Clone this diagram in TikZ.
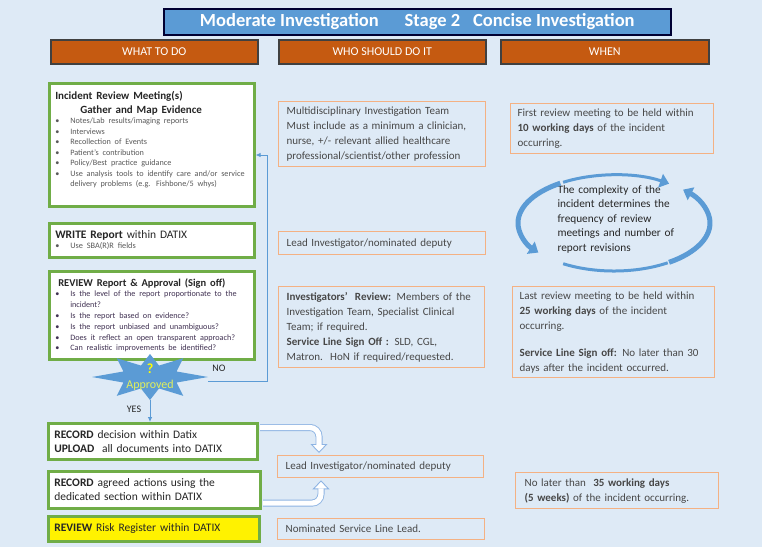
\documentclass[tikz,border=0pt]{standalone}
\usepackage{fontspec}
\setmainfont{Carlito}
\usepackage{tikz}
\usetikzlibrary{arrows.meta, calc, positioning}
\usepackage{xcolor}

\definecolor{bgblue}{HTML}{DEEAF6}
\definecolor{titleblue}{HTML}{5B9BD5}
\definecolor{headorange}{HTML}{C55A11}
\definecolor{boxgreen}{HTML}{70AD47}
\definecolor{boxorange}{HTML}{F4B183}
\definecolor{flowblue}{HTML}{5B9BD5}
\definecolor{hollowblue}{HTML}{8EB4E3}
\definecolor{textdark}{HTML}{262626}
\definecolor{bulletgray}{HTML}{595959}
\definecolor{bulletpurple}{HTML}{403152}
\definecolor{qyellow}{HTML}{FFFF00}
\definecolor{approvedtext}{HTML}{E2F05A}

\newcommand{\bul}{\makebox[15pt][l]{\textbullet}}

\tikzset{
  titlebox/.style={draw=black!80!blue, line width=1.6pt, fill=titleblue, text=white, anchor=north west,
    font=\fontsize{18.5}{22}\selectfont\bfseries},
  headbox/.style={draw=black!75, line width=1.5pt, fill=headorange, text=white, anchor=north west,
    minimum height=24pt, font=\fontsize{12}{14}\selectfont},
  greenbox/.style={draw=boxgreen, line width=2.6pt, fill=white, anchor=north west, align=left,
    inner xsep=6pt, inner ysep=2pt, text=textdark, font=\fontsize{11.5}{14}\selectfont},
  whobox/.style={draw=boxorange, line width=1.3pt, fill=bgblue, anchor=north west, align=left,
    inner xsep=8pt, inner ysep=2pt, text=textdark!85, font=\fontsize{11}{15}\selectfont},
  lbl/.style={text=textdark, font=\fontsize{10}{12}\selectfont},
  flow/.style={flowblue, line width=0.8pt, -{Latex[length=5pt, width=4.5pt]}},
  hollowout/.style={hollowblue, line width=7pt, rounded corners=9pt,
    -{Triangle[width=17pt, length=9pt, line width=0.9pt, fill=white]}},
  hollowin/.style={white, line width=5.2pt, rounded corners=9pt, shorten >=8pt},
  cyc/.style={flowblue, line width=5pt, -{Triangle[width=14pt, length=9pt]}}
}

\begin{document}
\begin{tikzpicture}[x=1pt, y=-1pt]
    % 背景
    \fill[bgblue] (0,0) rectangle (762,547);
    \useasboundingbox (0,0) rectangle (762,547);

    % 标题
    \node[titlebox, minimum width=507pt, minimum height=26pt] (title) at (163,8)
        {Moderate Investigation\hspace{1.4em}Stage 2\hspace{0.7em}Concise Investigation};

    % 列标题
    \node[headbox, minimum width=207pt] (what) at (50,39) {WHAT TO DO};
    \node[headbox, minimum width=207pt] (who) at (278,39) {WHO SHOULD DO IT};
    \node[headbox, minimum width=208pt] (when) at (500,39) {WHEN};

    % 左列：做什么
    \node[greenbox, text width=193pt, minimum height=123pt] (meeting) at (48,82) {%
        {\fontsize{11}{14}\selectfont\bfseries Incident Review Meeting(s)\\\hspace*{25pt}Gather and Map Evidence\par}
        {\fontsize{8.2}{10.5}\selectfont\color{bulletgray}
        \bul Notes/Lab results/imaging reports\\
        \bul Interviews\\
        \bul Recollection of Events\\
        \bul Patient’s contribution\\
        \bul Policy/Best practice guidance\\
        \bul Use analysis tools to identify care and/or service\\
        \hspace*{15pt}delivery problems (e.g. Fishbone/5 whys)\par}\vspace*{10pt}};
    \node[greenbox, text width=193pt, minimum height=34pt] (write) at (48,222) {%
        \textbf{WRITE Report}\ within DATIX\par
        {\fontsize{8.3}{10.5}\selectfont\color{bulletgray}\bul Use SBA(R)R fields\par}};
    \node[greenbox, text width=193pt, minimum height=88pt] (review) at (48,270) {%
        {\fontsize{10.5}{14}\selectfont\bfseries\hspace*{3pt}REVIEW Report \& Approval (Sign off)\par}
        {\fontsize{8.2}{10.8}\selectfont\color{bulletpurple}
        \bul Is the level of the report proportionate to the\\
        \hspace*{15pt}incident?\\
        \bul Is the report based on evidence?\\
        \bul Is the report unbiased and unambiguous?\\
        \bul Does it reflect an open transparent approach?\\
        \bul Can realistic improvements be identified?\par}};

    % 判断星形
    \fill[flowblue, shift={(150,377)}] (0:58 and 23)
        \foreach \i/\o in {27.5/55, 72.5/90, 107.5/125, 152.5/180, 207.5/235, 252.5/270, 287.5/305, 332.5/360}
            {-- (\i:30 and 12) -- (\o:58 and 23)} -- cycle;
    \node[align=center, minimum width=116pt, minimum height=46pt, inner sep=0pt] (approved) at (150,377)
        {{\color{qyellow}\fontsize{14}{15}\selectfont\bfseries ?}\\[3pt]%
         {\color{approvedtext}\fontsize{12}{13}\selectfont Approved}};
    \node[lbl] (nolabel) at (219,368) {NO};
    \node[lbl] (yeslabel) at (134,409) {YES};

    \node[greenbox, text width=197pt, minimum height=36pt] (record) at (47,422)
        {\textbf{RECORD} decision within Datix\\\textbf{UPLOAD}\ \ all documents into DATIX};
    \node[greenbox, text width=200pt, minimum height=37pt] (actions) at (47,470)
        {\textbf{RECORD} agreed actions using the\\dedicated section within DATIX};
    \node[greenbox, fill=yellow, text width=199pt, minimum height=25pt] (risk) at (47,515)
        {\textbf{REVIEW} Risk Register within DATIX};

    % 流程线
    \coordinate (noturn) at (267,155);
    \draw[flow] ($(approved.east)+(0,4)$) -| (noturn) -- (meeting.east |- noturn);
    \draw[flow] (approved.south) -- (approved.south |- record.north);

    % 中列：谁来做
    \node[whobox, text width=191pt, minimum height=65pt] (team) at (278,101)
        {Multidisciplinary Investigation Team\\Must include as a minimum a clinician,\\nurse, +/- relevant allied healthcare\\professional/scientist/other profession};
    \node[whobox, text width=191pt, minimum height=23pt] (lead1) at (278,231)
        {Lead Investigator/nominated deputy};
    \node[whobox, text width=190pt, minimum height=81pt] (signoff) at (278,286)
        {\textbf{Investigators’ \ Review:} Members of the\\Investigation Team, Specialist Clinical\\Team; if required.\\\textbf{Service Line Sign Off :} SLD, CGL,\\Matron.\ \ HoN if required/requested.};
    \node[whobox, text width=190pt, minimum height=22pt] (lead2) at (277,455)
        {Lead Investigator/nominated deputy};
    \node[whobox, text width=191pt, minimum height=21pt] (servicelead) at (277,518)
        {Nominated Service Line Lead.};

    % 空心箭头
    \coordinate (tip1) at ($(lead2.north west)+(42,-2)$);
    \coordinate (tip2) at ($(lead2.south west)+(44,2)$);
    \draw[hollowout] ($(record.north east)+(1.5,5.5)$) -| (tip1);
    \draw[hollowin] ($(record.north east)+(1.5,5.5)$) -| (tip1);
    \draw[hollowout] ($(actions.south east)+(1.5,-6.5)$) -| (tip2);
    \draw[hollowin] ($(actions.south east)+(1.5,-6.5)$) -| (tip2);

    % 右列：何时
    \node[whobox, text width=189pt, minimum height=50pt, inner xsep=7pt] (firstreview) at (510,103)
        {First review meeting to be held within\\\textbf{10 working days} of the incident\\occurring.};
    \node[align=left, text width=135pt, text=textdark, font=\fontsize{11.3}{14.5}\selectfont] (cycletext) at (625,219)
        {The complexity of the\\incident determines the\\frequency of review\\meetings and number of\\report revisions};
    \node[whobox, text width=188pt, minimum height=91pt, inner xsep=7pt] (lastreview) at (512,286)
        {Last review meeting to be held within\\\textbf{25 working days} of the incident\\occurring.\\[12pt]\textbf{Service Line Sign off:} No later than 30\\days after the incident occurred.};
    \node[whobox, text width=185pt, minimum height=36pt, inner xsep=9pt] (final) at (515,472)
        {No later than \ \textbf{35 working days}\\\textbf{(5 weeks)} of the incident occurring.};

    % 循环箭头
    \draw[cyc, line width=3pt] (614,223) ++(238:96 and 48) arc[start angle=238, end angle=305, x radius=96, y radius=48];
    \draw[cyc] (614,223) ++(55:96 and 48) arc[start angle=55, end angle=-44, x radius=96, y radius=48];
    \draw[cyc] (614,223) ++(236:96 and 48) arc[start angle=236, end angle=142, x radius=96, y radius=48];
    \draw[flowblue, line width=3pt] (614,223) ++(122:96 and 48) arc[start angle=122, end angle=56, x radius=96, y radius=48];
\end{tikzpicture}
\end{document}
